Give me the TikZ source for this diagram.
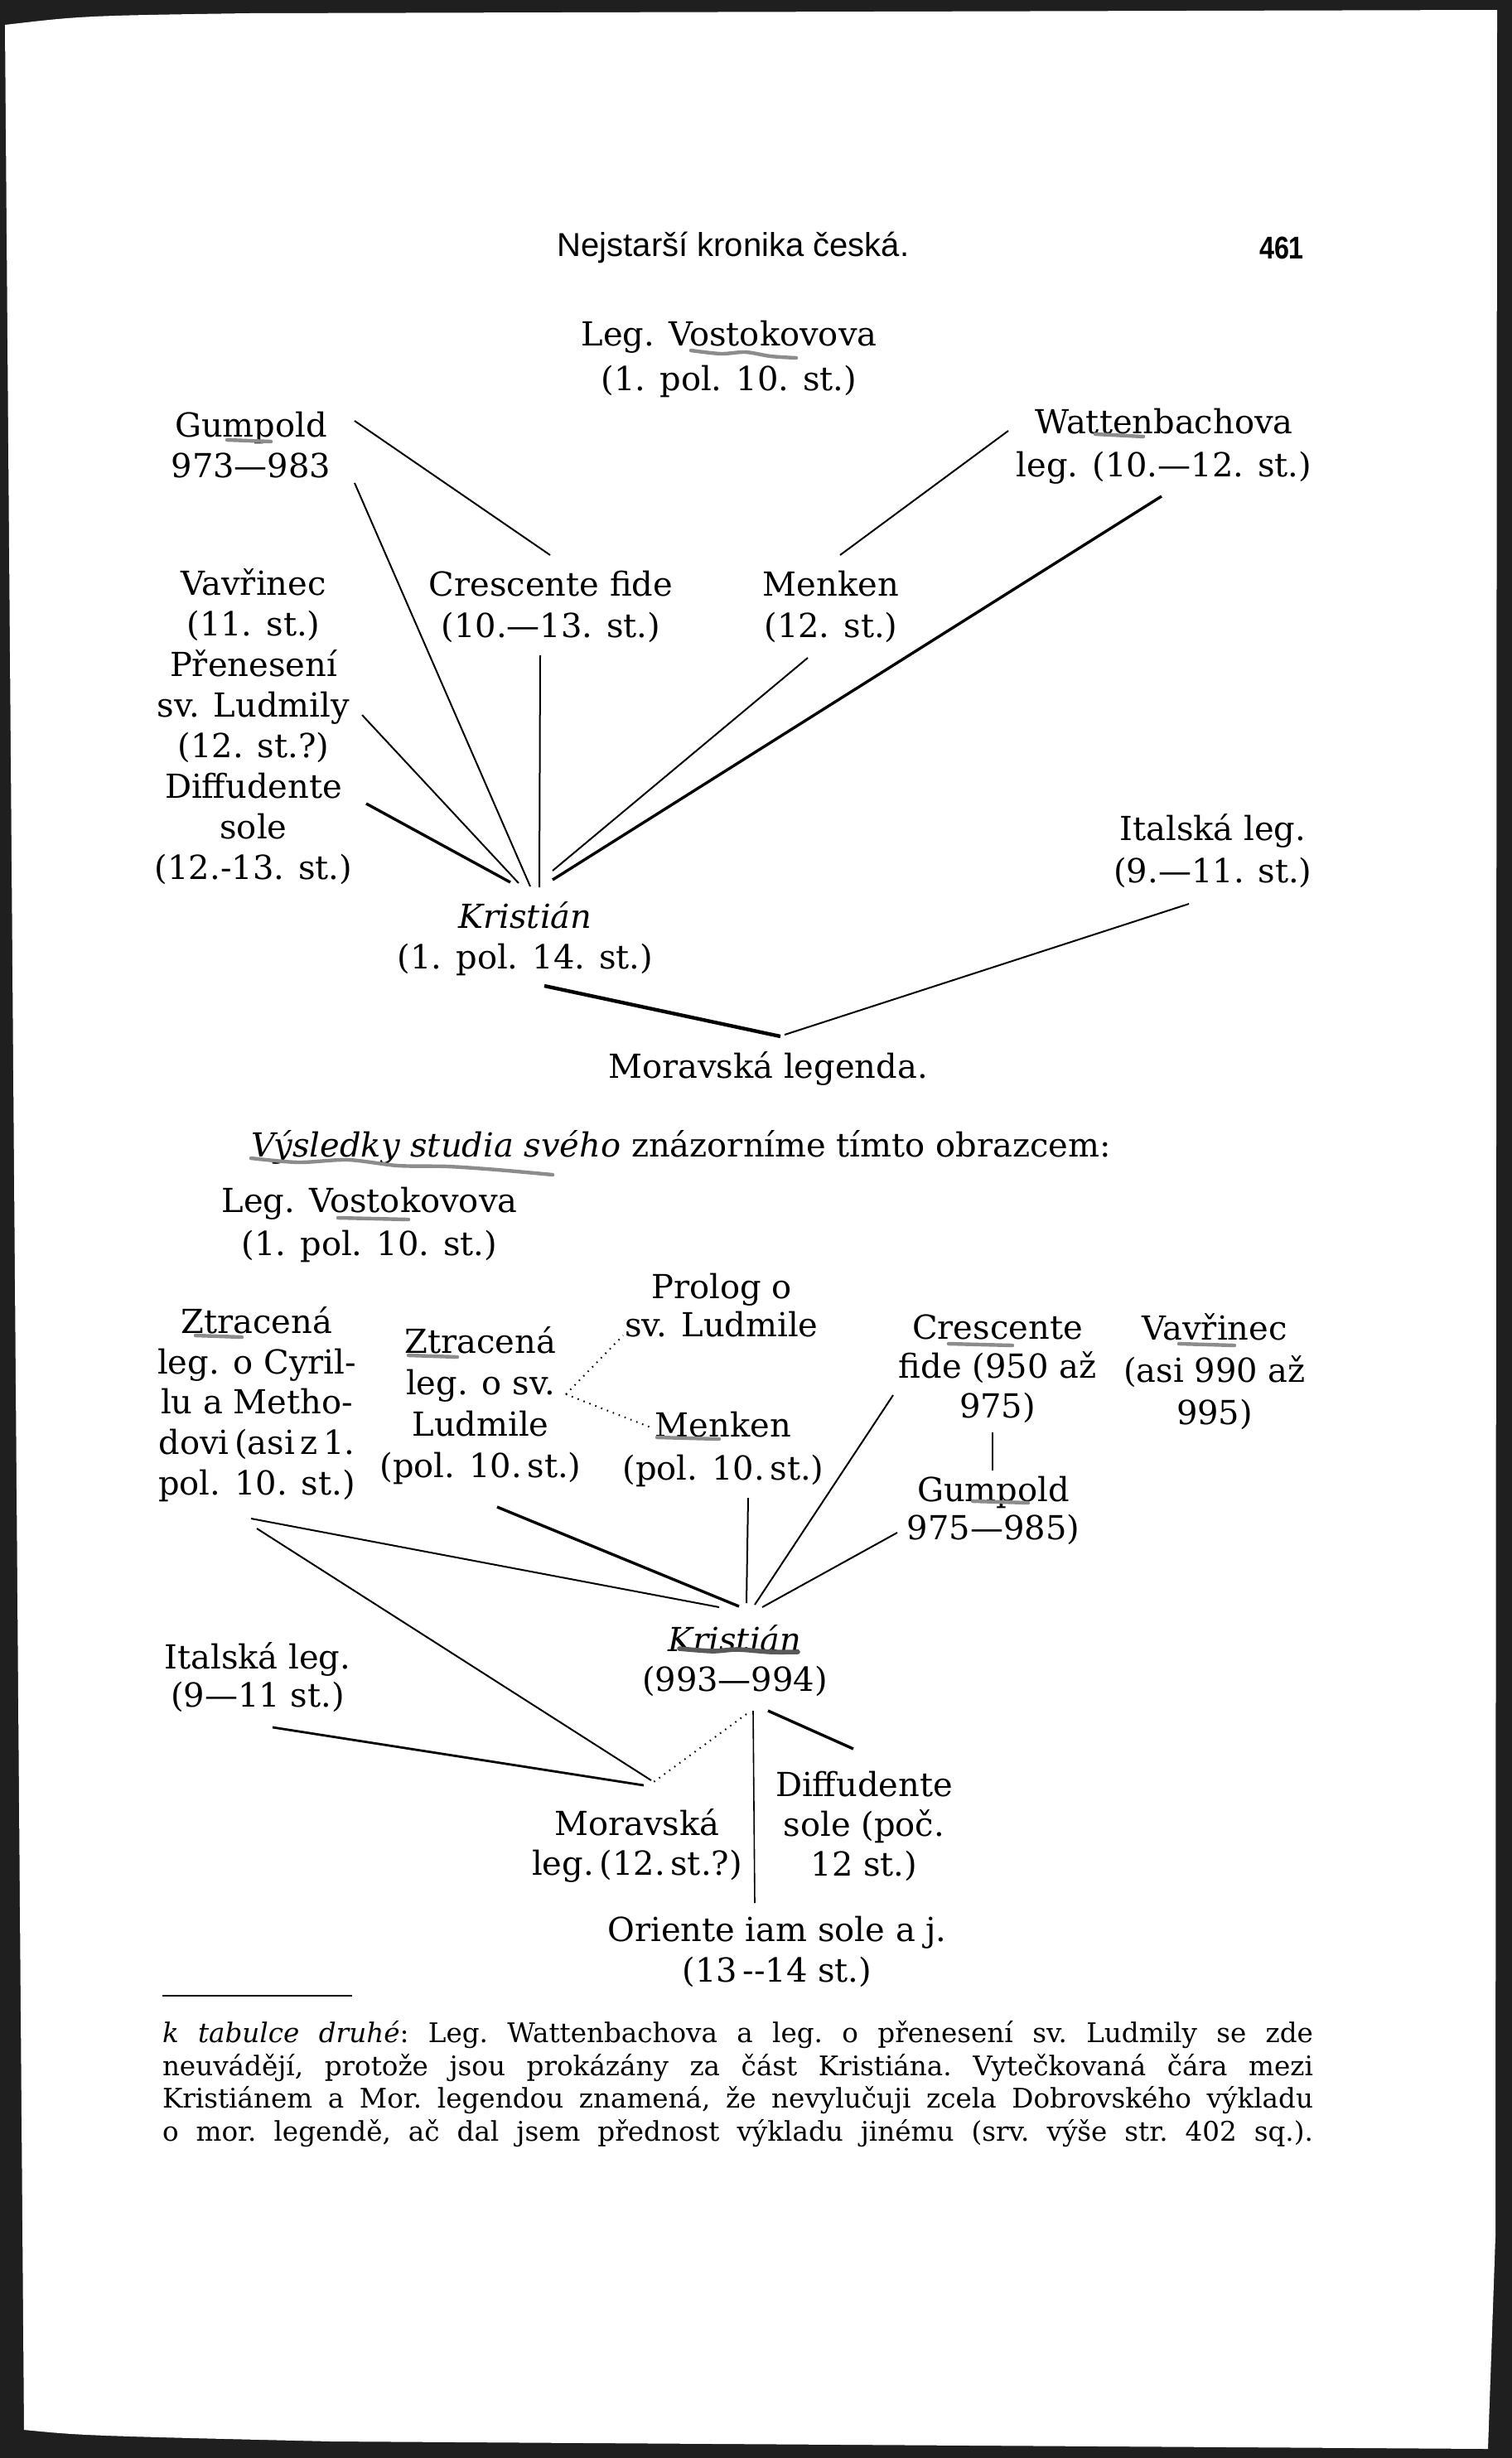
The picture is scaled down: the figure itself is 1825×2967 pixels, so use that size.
\documentclass[tikz,border=0pt]{standalone}
\usepackage{fontspec}
\setmainfont{DejaVu Serif}
\newfontfamily\headfont{Liberation Sans}
\usepackage{graphicx}
\begin{document}
\begin{tikzpicture}[x=0.5pt,y=-0.5pt,
  lab/.style={font=\fontsize{20}{#1}\selectfont,align=center,inner sep=0pt},
  lab/.default=24.5pt,
  conn/.style={line width=1pt,black},
  connthick/.style={line width=1.7pt,black},
  dotline/.style={line width=1pt,black,dash pattern=on 0.8pt off 3pt},
  pen/.style={line width=2.2pt,black!45,line cap=round,line join=round},
  foot/.style={font=\fontsize{16.3}{19.8}\selectfont\frenchspacing,align=left,inner sep=0pt}]
\useasboundingbox (0,0) rectangle (1825,2967);
% scanned page edges
\fill[black!88] (0,0) rectangle (1825,2967);
\fill[white] (6,30) .. controls (100,19) .. (300,16) -- (1807,12) -- (1805,2700) -- (1796,2956)
  -- (400,2947) .. controls (100,2940) .. (29,2933) -- cycle;

% header
\node[font=\headfont\fontsize{20}{24}\selectfont,inner sep=0pt] (hd) at (885,299) {Nejstarší kronika česká.};
\node[font=\headfont\bfseries\fontsize{19}{24}\selectfont,inner sep=0pt] (pg) at (1547,299) {\scalebox{0.85}[1]{461}};

% ---------- top diagram ----------
\node[lab=27pt] (vost) at (880,433) {Leg. Vostokovova\\(1. pol. 10. st.)};
\node[lab] (gump) at (303,537) {Gumpold\\973—983};
\node[lab=26pt] (watt) at (1405,539) {Wattenbachova\\leg. (10.—12. st.)};
\node[lab] (vavr) at (306,877) {Vavřinec\\(11. st.)\\Přenesení\\sv. Ludmily\\(12. st.?)\\Diffudente\\sole\\(12.-13. st.)};
\node[lab=25pt] (cres) at (665,732) {Crescente fide\\(10.—13. st.)};
\node[lab=25pt] (menk) at (1003,732) {Menken\\(12. st.)};
\node[lab=25.5pt] (ital) at (1464,1027) {Italská leg.\\(9.—11. st.)};
\node[lab] (krist) at (634,1133) {\textit{Kristián}\\(1. pol. 14. st.)};
\node[lab] (morav) at (927,1290) {Moravská legenda.};

\coordinate (gcA) at (428,508);  \coordinate (gcB) at (664,670);
\coordinate (gkA) at (428,583);  \coordinate (gkB) at (640,1070);
\coordinate (wmA) at (1217,520); \coordinate (wmB) at (1014,670);
\coordinate (wkA) at (1402,599); \coordinate (wkB) at (667,1062);
\coordinate (ckA) at (652,791);  \coordinate (ckB) at (651,1071);
\coordinate (mkA) at (975,794);  \coordinate (mkB) at (667,1051);
\coordinate (pkA) at (437,863);  \coordinate (pkB) at (626,1066);
\coordinate (dkA) at (442,970);  \coordinate (dkB) at (616,1065);
\coordinate (kmA) at (657,1190); \coordinate (kmB) at (942,1251);
\coordinate (imA) at (1435,1091);\coordinate (imB) at (947,1249);

\draw[conn] (gcA) -- (gcB);
\draw[conn] (gkA) -- (gkB);
\draw[conn] (wmA) -- (wmB);
\draw[connthick] (wkA) -- (wkB);
\draw[conn] (ckA) -- (ckB);
\draw[conn] (mkA) -- (mkB);
\draw[conn] (pkA) -- (pkB);
\draw[connthick] (dkA) -- (dkB);
\draw[line width=2.2pt] (kmA) -- (kmB);
\draw[conn] (imA) -- (imB);

% ---------- bottom diagram ----------
\node[lab,anchor=west] (vysl) at (303,1385) {\textit{Výsledky studia svého} znázorníme tímto obrazcem:};
\node[lab=26pt] (vost2) at (446,1478) {Leg. Vostokovova\\(1. pol. 10. st.)};
\node[lab=23pt] (prolog) at (871,1576) {Prolog o\\sv. Ludmile};
\node[lab=24.4pt] (ztr1) at (310,1695) {Ztracená\\leg. o Cyril-\\lu a Metho-\\dovi\,(asi\,z\,1.\\pol. 10. st.)};
\node[lab=25pt] (ztr2) at (580,1697) {Ztracená\\leg. o sv.\\Ludmile\\(pol. 10.\,st.)};
\node[lab=26pt] (menk2) at (873,1749) {Menken\\(pol. 10.\,st.)};
\node[lab=23.75pt] (cres2) at (1204,1652) {Crescente\\fide (950 až\\975)};
\node[lab=25.5pt] (vavr2) at (1466,1656) {Vavřinec\\(asi 990 až\\995)};
\node[lab=23pt] (gump2) at (1199,1823) {Gumpold\\975—985)};
\node[lab=24pt] (krist2) at (887,2005) {\textit{Kristián}\\(993—994)};
\node[lab=23pt] (ital2) at (311,2025) {Italská leg.\\(9—11 st.)};
\node[lab=24pt] (morav2) at (769,2228) {Moravská\\leg.\,(12.\,st.?)};
\node[lab=24pt] (diff2) at (1043,2204) {Diffudente\\sole (poč.\\12 st.)};
\node[lab=24.5pt] (orient) at (938,2356) {Oriente iam sole a j.\\(13\,-{}-14 st.)};

\coordinate (zkA) at (303,1833);   \coordinate (zkB) at (868,1940);
\coordinate (zmA) at (310,1845);   \coordinate (zmB) at (786,2149);
\coordinate (z2kA) at (600,1819);  \coordinate (z2kB) at (892,1939);
\coordinate (m2kA) at (903,1808);  \coordinate (m2kB) at (901,1935);
\coordinate (c2kA) at (1078,1684); \coordinate (c2kB) at (911,1937);
\coordinate (g2kA) at (1083,1850); \coordinate (g2kB) at (920,1940);
\coordinate (cgA) at (1198,1729);  \coordinate (cgB) at (1198,1775);
\coordinate (i2mA) at (329,2085);  \coordinate (i2mB) at (777,2155);
\coordinate (k2mA) at (901,2069);  \coordinate (k2mB) at (789,2151);
\coordinate (koA) at (909,2065);   \coordinate (koB) at (911,2297);
\coordinate (kdA) at (927,2065);   \coordinate (kdB) at (1030,2111);
\coordinate (zj) at (683,1683);
\coordinate (zpB) at (752,1612);
\coordinate (zmnB) at (788,1724);

\draw[conn] (zkA) -- (zkB);
\draw[conn] (zmA) -- (zmB);
\draw[connthick] (z2kA) -- (z2kB);
\draw[conn] (m2kA) -- (m2kB);
\draw[conn] (c2kA) -- (c2kB);
\draw[conn] (g2kA) -- (g2kB);
\draw[conn] (cgA) -- (cgB);
\draw[line width=1.4pt] (i2mA) -- (i2mB);
\draw[dotline] (k2mA) -- (k2mB);
\draw[line width=0.8pt] (koA) -- (koB);
\draw[connthick] (kdA) -- (kdB);
\draw[dotline] (zj) -- (zpB);
\draw[dotline] (zj) -- (zmnB);

% ---------- footnote ----------
\coordinate (rA) at (196,2409); \coordinate (rB) at (425,2409);
\draw[line width=1pt] (rA) -- (rB);
\node[foot] (fn) at (890.5,2515.5) {%
\makebox[694.5pt][s]{\textit{k tabulce druhé}: Leg. Wattenbachova a leg. o přenesení sv. Ludmily se zde}\\
\makebox[694.5pt][s]{neuvádějí, protože jsou prokázány za část Kristiána. Vytečkovaná čára mezi}\\
\makebox[694.5pt][s]{Kristiánem a Mor. legendou znamená, že nevylučuji zcela Dobrovského výkladu}\\
\makebox[694.5pt][s]{o mor. legendě, ač dal jsem přednost výkladu jinému (srv. výše str. 402 sq.).}};

% ---------- pen marks of a reader ----------
\draw[pen] plot[smooth] coordinates {(834,423) (870,427) (900,425) (930,430) (961,432)};
\draw[pen] (274,531) -- (327,533);
\draw[pen] (1322,524) -- (1380,527);
\draw[pen] plot[smooth] coordinates {(303,1398) (360,1403) (420,1400) (480,1407) (540,1408) (600,1412) (667,1418)};
\draw[pen] (408,1470) -- (493,1472);
\draw[pen] (236,1612) -- (292,1614);
\draw[pen] (493,1636) -- (552,1638);
\draw[pen] (1145,1622) -- (1222,1624);
\draw[pen] (1423,1622) -- (1490,1624);
\draw[pen] (793,1735) -- (868,1737);
\draw[pen] (1174,1812) -- (1241,1814);
\draw[pen,line width=2.8pt,black!65] plot[smooth] coordinates {(820,1990) (860,1993) (890,1991) (930,1994) (963,1994)};
\end{tikzpicture}
\end{document}
